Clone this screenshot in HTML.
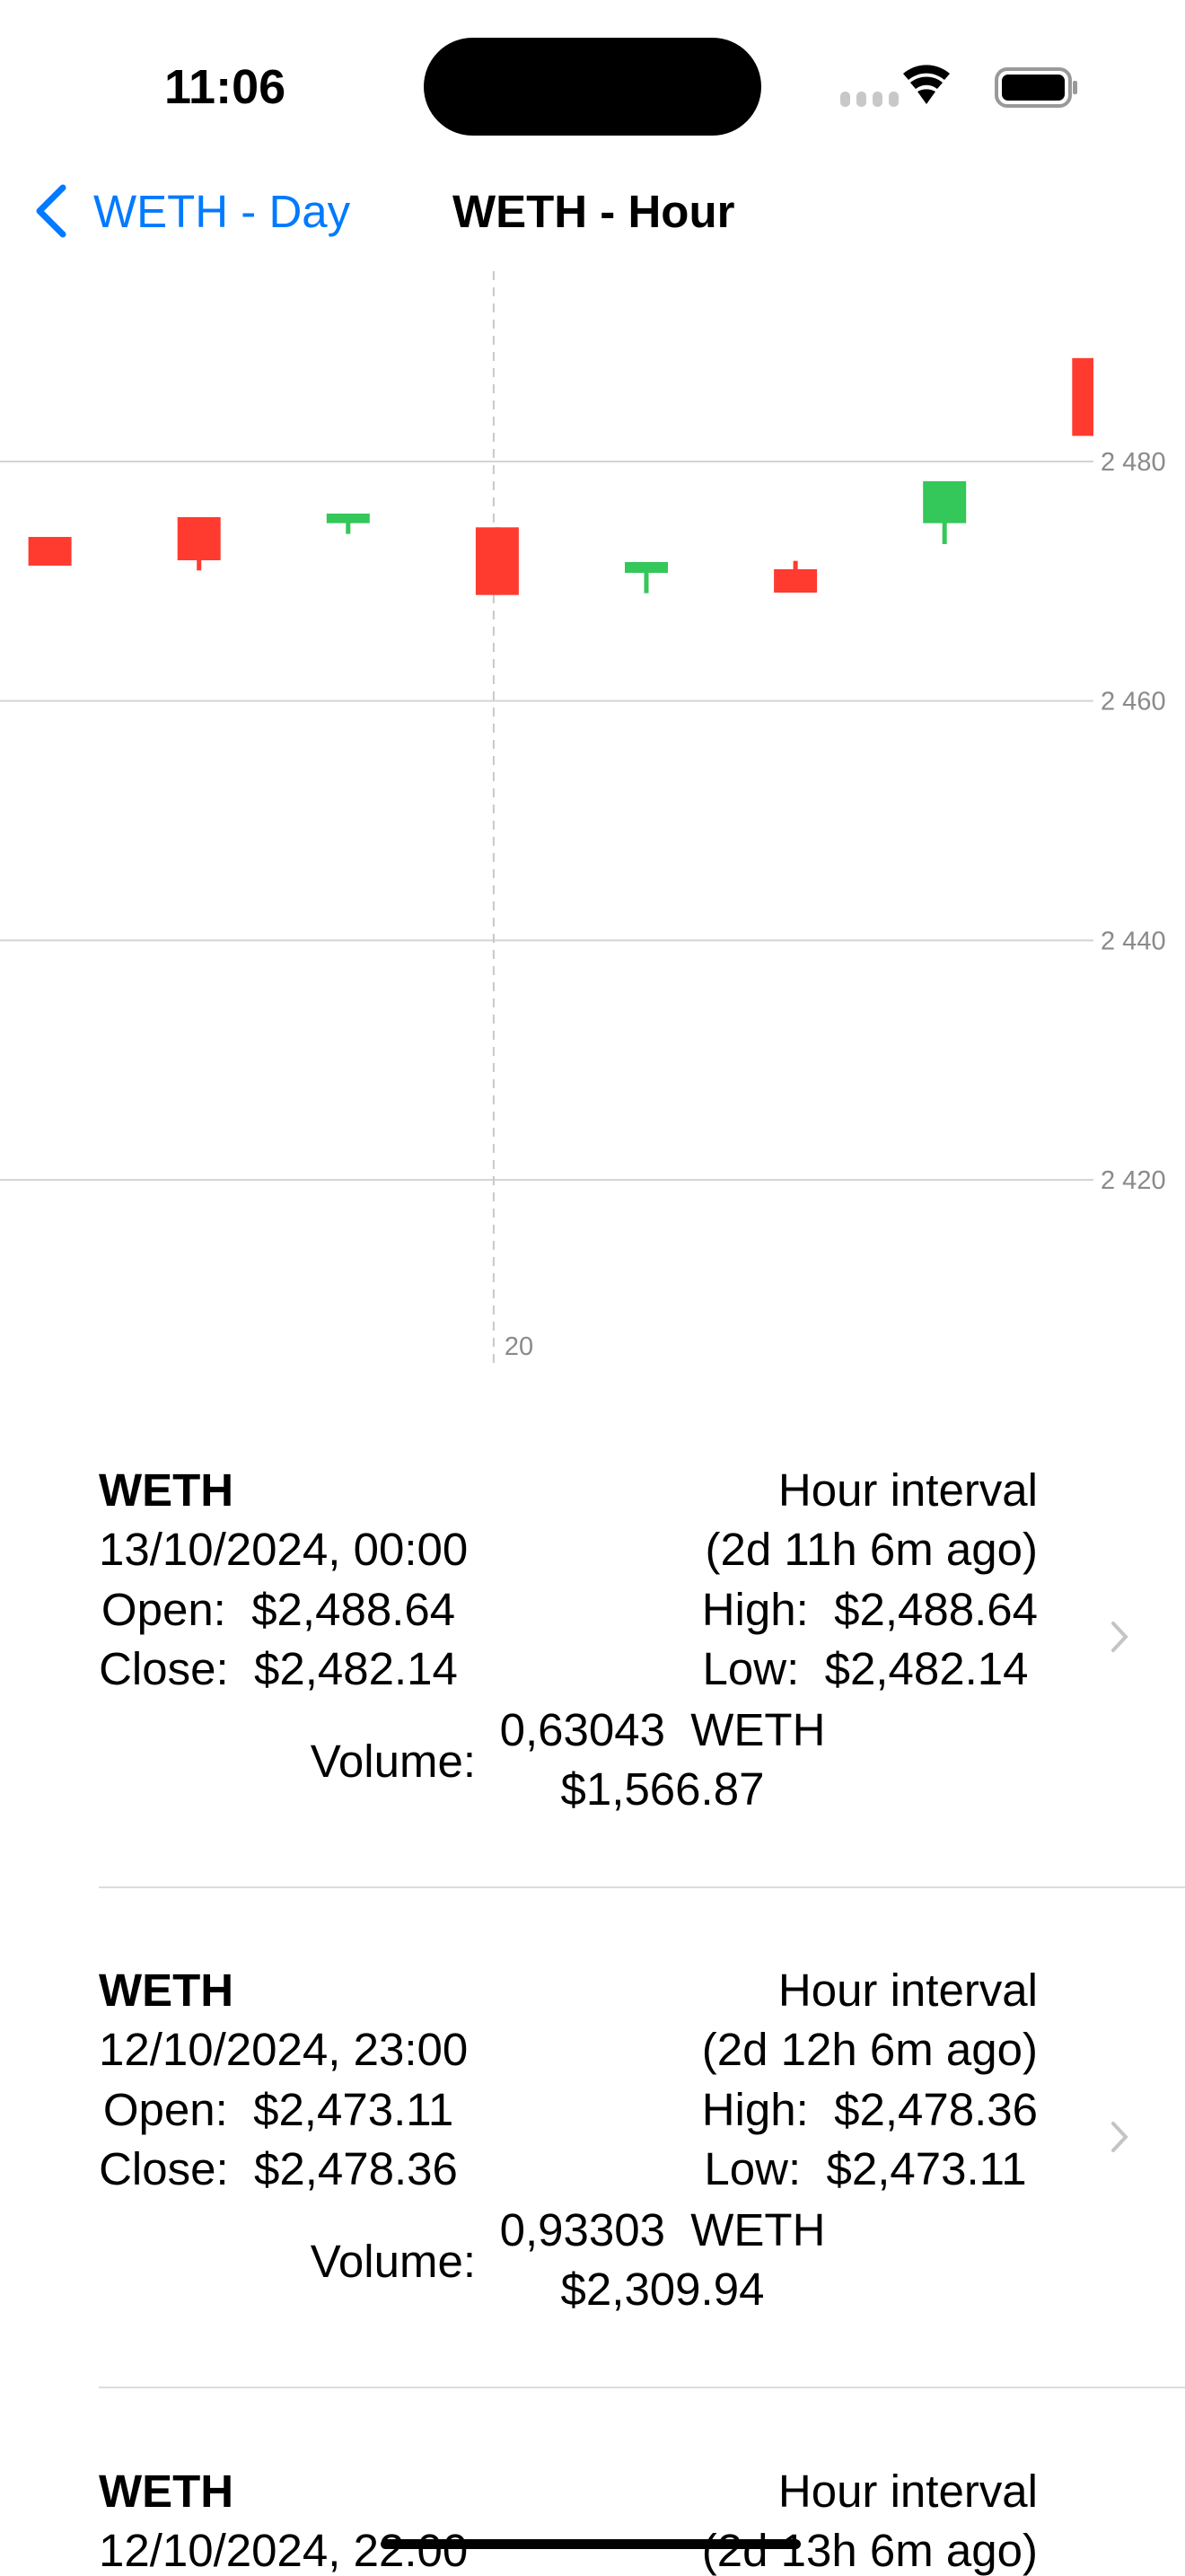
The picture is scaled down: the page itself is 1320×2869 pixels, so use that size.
<!DOCTYPE html>
<html><head><meta charset="utf-8">
<style>
html,body{margin:0;padding:0;background:#fff;}
body{width:1320px;height:2868px;position:relative;overflow:hidden;font-family:"Liberation Sans",sans-serif;color:#000;}
.t{position:absolute;white-space:pre;line-height:51px;font-size:51px;}
.sep{position:absolute;left:110px;right:0;height:2px;background:#dcdcdf;}
</style></head>
<body>
<div>
  <div class="t" style="left:183px;top:70px;font-size:54px;font-weight:bold;line-height:54px;">11:06</div>
  <div style="position:absolute;left:472px;top:42px;width:376px;height:109px;border-radius:55px;background:#000;"></div>
  <svg style="position:absolute;left:930px;top:70px" width="280" height="50">
    <rect x="6" y="32" width="11" height="17" rx="5" fill="#c8c8c8"/>
    <rect x="24" y="32" width="11" height="17" rx="5" fill="#c8c8c8"/>
    <rect x="42" y="32" width="11" height="17" rx="5" fill="#c8c8c8"/>
    <rect x="60" y="32" width="11" height="17" rx="5" fill="#c8c8c8"/>
    <path d="M102 46 L92 32 A20 20 0 0 1 112 32 Z" fill="#000"/>
    <path d="M84 22 A28 28 0 0 1 120 22 L114 29 A19 19 0 0 0 90 29 Z" fill="#000"/>
    <path d="M76 12 A40 40 0 0 1 128 12 L122 19 A31 31 0 0 0 82 19 Z" fill="#000"/>
    <rect x="180" y="7" width="82" height="41" rx="12" fill="none" stroke="#999" stroke-width="4"/>
    <rect x="186" y="13" width="70" height="29" rx="7" fill="#000"/>
    <rect x="265" y="20" width="5" height="15" rx="2" fill="#999"/>
  </svg>
</div>
<div>
  <svg style="position:absolute;left:36px;top:205px" width="40" height="60"><path d="M34 4 L8 30 L34 56" fill="none" stroke="#007aff" stroke-width="7" stroke-linecap="round" stroke-linejoin="round"/></svg>
  <div class="t" style="left:104px;top:210px;color:#007aff;">WETH - Day</div>
  <div class="t" style="left:504px;top:210px;font-weight:bold;">WETH - Hour</div>
</div>
<svg id="chart" style="position:absolute;left:0;top:290px" width="1320" height="1250"></svg>

<div>
  <div>
    <div class="t" style="left:110px;top:1634px;font-weight:bold;">WETH</div>
    <div class="t" style="left:110px;top:1700px;">13/10/2024, 00:00</div>
    <div class="t" style="left:110px;width:400px;text-align:center;top:1767px;">Open:  $2,488.64</div>
    <div class="t" style="left:110px;width:400px;text-align:center;top:1833px;">Close:  $2,482.14</div>
    <div class="t" style="right:164px;top:1634px;">Hour interval</div>
    <div class="t" style="right:164px;top:1700px;">(2d 11h 6m ago)</div>
    <div class="t" style="right:164px;top:1767px;">High:  $2,488.64</div>
    <div class="t" style="left:772px;width:384px;text-align:center;top:1833px;">Low:  $2,482.14</div>
    <div class="t" style="right:790px;top:1936px;">Volume:</div>
    <div class="t" style="left:538px;width:400px;text-align:center;top:1901px;">0,63043  WETH</div>
    <div class="t" style="left:538px;width:400px;text-align:center;top:1967px;">$1,566.87</div>
    <svg style="position:absolute;left:1236px;top:1804px" width="24" height="38"><path d="M4 4 L18 19 L4 34" fill="none" stroke="#c4c4c7" stroke-width="4" stroke-linecap="round"/></svg>
  </div>
  <div class="sep" style="top:2101px"></div>
  <div>
    <div class="t" style="left:110px;top:2191px;font-weight:bold;">WETH</div>
    <div class="t" style="left:110px;top:2257px;">12/10/2024, 23:00</div>
    <div class="t" style="left:110px;width:400px;text-align:center;top:2324px;">Open:  $2,473.11</div>
    <div class="t" style="left:110px;width:400px;text-align:center;top:2390px;">Close:  $2,478.36</div>
    <div class="t" style="right:164px;top:2191px;">Hour interval</div>
    <div class="t" style="right:164px;top:2257px;">(2d 12h 6m ago)</div>
    <div class="t" style="right:164px;top:2324px;">High:  $2,478.36</div>
    <div class="t" style="left:772px;width:384px;text-align:center;top:2390px;">Low:  $2,473.11</div>
    <div class="t" style="right:790px;top:2493px;">Volume:</div>
    <div class="t" style="left:538px;width:400px;text-align:center;top:2458px;">0,93303  WETH</div>
    <div class="t" style="left:538px;width:400px;text-align:center;top:2524px;">$2,309.94</div>
    <svg style="position:absolute;left:1236px;top:2361px" width="24" height="38"><path d="M4 4 L18 19 L4 34" fill="none" stroke="#c4c4c7" stroke-width="4" stroke-linecap="round"/></svg>
  </div>
  <div class="sep" style="top:2658px"></div>
  <div>
    <div class="t" style="left:110px;top:2749px;font-weight:bold;">WETH</div>
    <div class="t" style="left:110px;top:2815px;">12/10/2024, 22:00</div>
    <div class="t" style="right:164px;top:2749px;">Hour interval</div>
    <div class="t" style="right:164px;top:2815px;">(2d 13h 6m ago)</div>
  </div>
</div>
<div style="position:absolute;left:424px;top:2828px;width:468px;height:11px;border-radius:6px;background:#000;"></div>

<script>
const hours = [17, 18, 19, 20, 21, 22, 23, 24];
const opens = [2473.7, 2475.35, 2474.85, 2474.5, 2470.7, 2471.0, 2474.85, 2488.64];
const closes = [2471.3, 2471.75, 2475.65, 2468.85, 2471.6, 2469.05, 2478.35, 2482.14];
const highs = [2473.7, 2475.35, 2475.65, 2474.5, 2471.6, 2471.7, 2478.35, 2488.64];
const lows = [2471.3, 2470.9, 2473.95, 2468.85, 2469.0, 2469.05, 2473.1, 2482.14];
const yTicks = [2480, 2460, 2440, 2420];
const yTickLabels = ["2 480", "2 460", "2 440", "2 420"];
const xTickHours = [20];
const xTickLabels = ["20"];

const svg = document.getElementById('chart');
const NS = 'http://www.w3.org/2000/svg';
const OY = 290;
const plotRight = 1218;
function y(v){ return (514 - OY) + (2480 - v) * 13.333; }
function x(h){ return 55.6 + (h - 17) * 166.1; }
function mk(tag, attrs){ const e = document.createElementNS(NS, tag); for (const k in attrs) e.setAttribute(k, attrs[k]); svg.appendChild(e); return e; }

yTicks.forEach((t, i) => {
  const l = mk('line', {x1:0, x2:plotRight, y1:y(t), y2:y(t), stroke:'#d4d4d6', 'stroke-width':2});
  
  
  const tx = mk('text', {x:1226, y:y(t)+10, 'font-size':29, fill:'#8a8a8e', 'font-family':'Liberation Sans, sans-serif'});
  tx.textContent = yTickLabels[i];
  
  
});
xTickHours.forEach((h, i) => {
  const xx = x(h) - 4;
  const l = mk('line', {x1:xx, x2:xx, y1:12, y2:1228, stroke:'#c8c8ca', 'stroke-width':2, 'stroke-dasharray':'10 8'});
  
  
  const tx = mk('text', {x:xx+12, y:1219, 'font-size':29, fill:'#8a8a8e', 'font-family':'Liberation Sans, sans-serif'});
  tx.textContent = xTickLabels[i];
  
  
});
const defs = mk('defs', {});
const cp = document.createElementNS(NS, 'clipPath'); cp.setAttribute('id', 'plotclip');
const cr = document.createElementNS(NS, 'rect'); cr.setAttribute('x', 0); cr.setAttribute('y', 0); cr.setAttribute('width', plotRight); cr.setAttribute('height', 1250);
cp.appendChild(cr); defs.appendChild(cp);
const g = mk('g', {'clip-path':'url(#plotclip)'});
hours.forEach((h, i) => {
  const up = closes[i] >= opens[i];
  const col = up ? '#34c759' : '#ff3b30';
  const cx = x(h);
  const w = document.createElementNS(NS, 'rect');
  w.setAttribute('x', cx - 2.5); w.setAttribute('width', 5);
  w.setAttribute('y', y(highs[i])); w.setAttribute('height', Math.max(0, y(lows[i]) - y(highs[i])));
  w.setAttribute('fill', col);
  
  
  g.appendChild(w);
  const top = y(Math.max(opens[i], closes[i])), bot = y(Math.min(opens[i], closes[i]));
  const b = document.createElementNS(NS, 'rect');
  b.setAttribute('x', cx - 24); b.setAttribute('width', 48);
  b.setAttribute('y', top); b.setAttribute('height', Math.max(2, bot - top));
  b.setAttribute('fill', col);
  
  
  g.appendChild(b);
});
</script>
</body></html>
